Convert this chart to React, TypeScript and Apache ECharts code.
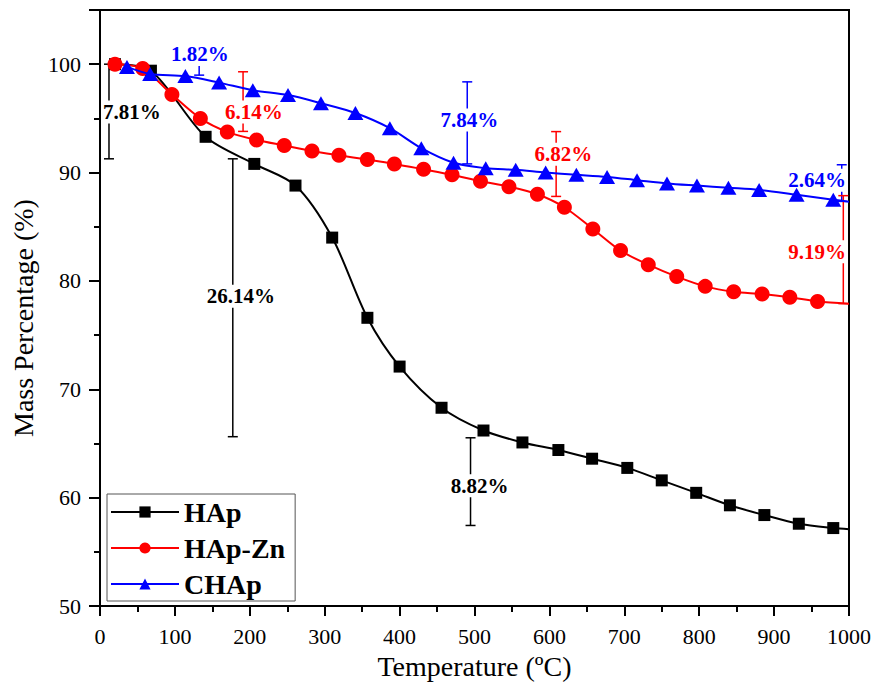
import React, { useEffect, useRef } from "react";
import * as echarts from "echarts";

const FONT = "'Liberation Serif', 'Times New Roman', serif";

// HAp (black squares)
const hapT = [20, 68, 141, 206, 261, 310, 357, 400, 456, 512, 564, 612, 657, 704, 750, 796, 841, 887, 933, 979];
const hapV = [100, 99.4, 93.3, 90.8, 88.8, 84.0, 76.6, 72.1, 68.3, 66.2, 65.1, 64.4, 63.6, 62.75, 61.6, 60.45, 59.3, 58.4, 57.6, 57.2];
const hapEnd = [1000, 57.1];

// HAp-Zn (red circles)
const znT = [20, 57, 96, 134, 170, 209, 246, 283, 319, 357, 393, 432, 470, 508, 546, 584, 620, 658, 695, 732, 770, 808, 846, 884, 921, 958];
const znV = [100, 99.6, 97.2, 95.0, 93.75, 93.0, 92.5, 92.0, 91.6, 91.2, 90.8, 90.3, 89.8, 89.2, 88.7, 88.0, 86.8, 84.8, 82.8, 81.5, 80.4, 79.5, 79.0, 78.8, 78.5, 78.1];
const znEnd = [1000, 77.9];

// CHAp (blue triangles)
const chT = [36, 67, 114, 159, 204, 251, 295, 341, 387, 429, 472, 515, 555, 595, 636, 677, 717, 757, 797, 839, 880, 930, 979];
const chV = [99.75, 99.1, 98.9, 98.3, 97.6, 97.15, 96.4, 95.5, 94.1, 92.25, 90.9, 90.4, 90.25, 90.0, 89.8, 89.6, 89.3, 89.0, 88.8, 88.6, 88.4, 87.95, 87.5];
const chEnd = [1000, 87.3];

// Mass-loss annotations: bar x, top, bottom, label anchor (data units)
const annText = ["7.81%", "26.14%", "8.82%", "1.82%", "6.14%", "7.84%", "6.82%", "2.64%", "9.19%"];
const annColor = ["#000000", "#000000", "#000000", "#0000ff", "#ff0000", "#0000ff", "#ff0000", "#0000ff", "#ff0000"];
const annX = [12, 177.3, 494.7, 132.4, 191, 490.3, 609, 990.3, 992.4];
const annTop = [100, 91.27, 65.53, 100.06, 99.3, 98.37, 93.78, 90.72, 87.87];
const annBottom = [91.27, 65.63, 57.44, 98.99, 93.8, 90.8, 87.8, 87.34, 77.91];
const annLabelX = [42.7, 188, 506.7, 133.3, 205.3, 493.3, 618.7, 957.3, 957.3];
const annLabelY = [95.6, 78.6, 61.1, 100.9, 95.6, 94.85, 91.7, 89.3, 82.7];

const xTicks = [0, 100, 200, 300, 400, 500, 600, 700, 800, 900, 1000];
const yTicks = [50, 60, 70, 80, 90, 100];

function pairs(t: number[], v: number[], end: number[]) {
  const d: any[] = t.map((x, i) => [x, v[i]]);
  d.push({ value: end, symbol: "none" });
  return d;
}

export default function App() {
  const ref = useRef<HTMLDivElement>(null);
  useEffect(() => {
    if (!ref.current) return;
    const chart = echarts.init(ref.current, undefined, { renderer: "svg" });
    const annData = annX.map((x, i) => [x, annTop[i], annBottom[i], annLabelX[i], annLabelY[i]]);
    const axisCommon = {
      axisLine: { show: true, lineStyle: { color: "#000", width: 2 } },
      axisTick: { show: true, inside: false, lineStyle: { color: "#000", width: 2 } },
      minorTick: { show: true, splitNumber: 2, lineStyle: { color: "#000", width: 2 } },
      splitLine: { show: false },
      minorSplitLine: { show: false },
      nameLocation: "middle" as const,
      nameTextStyle: { color: "#000", fontFamily: FONT, fontSize: 28 },
    };
    chart.setOption({
      animation: false,
      backgroundColor: "#ffffff",
      grid: { left: 100, right: 26, top: 10, bottom: 76, show: true, borderColor: "#000", borderWidth: 2, backgroundColor: "transparent" },
      xAxis: {
        type: "value",
        min: xTicks[0],
        max: xTicks[xTicks.length - 1],
        interval: 100,
        name: "Temperature (ºC)",
        nameGap: 44,
        ...axisCommon,
        axisTick: { ...axisCommon.axisTick, length: 10 },
        minorTick: { ...axisCommon.minorTick, length: 6 },
        axisLabel: {
          color: "#000",
          fontFamily: FONT,
          fontSize: 22,
          margin: 19,
          formatter: (v: number) => (xTicks.indexOf(v) >= 0 ? String(v) : ""),
        },
      },
      yAxis: {
        type: "value",
        min: yTicks[0],
        max: 105,
        interval: 10,
        name: "Mass Percentage (%)",
        nameGap: 56,
        ...axisCommon,
        nameTextStyle: { ...axisCommon.nameTextStyle, padding: [0, 20, 0, 0] },
        axisTick: { ...axisCommon.axisTick, length: 11 },
        minorTick: { ...axisCommon.minorTick, length: 6 },
        axisLabel: {
          color: "#000",
          fontFamily: FONT,
          fontSize: 22,
          margin: 19,
          formatter: (v: number) => (yTicks.indexOf(v) >= 0 ? String(v) : ""),
        },
      },
      legend: {
        orient: "vertical",
        left: 107,
        top: 494,
        padding: [4, 10, 3, 3],
        itemGap: 8,
        itemWidth: 68,
        itemHeight: 14,
        borderColor: "#555",
        borderWidth: 1,
        backgroundColor: "#fff",
        textStyle: { color: "#000", fontFamily: FONT, fontSize: 28, fontWeight: "bold" },
        data: ["HAp", "HAp-Zn", "CHAp"],
      },
      series: [
        {
          type: "custom",
          name: "annotations",
          z: 1,
          silent: true,
          clip: false,
          encode: { x: 0, y: 1 },
          data: annData,
          renderItem: (params: any, api: any) => {
            const i = params.dataIndex;
            const color = annColor[i];
            const p1 = api.coord([api.value(0), api.value(1)]);
            const p2 = api.coord([api.value(0), api.value(2)]);
            const pl = api.coord([api.value(3), api.value(4)]);
            const st = { stroke: color, lineWidth: 1.5 };
            return {
              type: "group",
              children: [
                { type: "line", shape: { x1: p1[0], y1: p1[1], x2: p2[0], y2: p2[1] }, style: st },
                { type: "line", shape: { x1: p1[0] - 5, y1: p1[1], x2: p1[0] + 5, y2: p1[1] }, style: st },
                { type: "line", shape: { x1: p2[0] - 5, y1: p2[1], x2: p2[0] + 5, y2: p2[1] }, style: st },
                {
                  type: "text",
                  x: pl[0],
                  y: pl[1],
                  style: {
                    text: annText[i],
                    fill: color,
                    fontFamily: FONT,
                    fontSize: 21,
                    fontWeight: "bold",
                    align: "center",
                    verticalAlign: "middle",
                    backgroundColor: "#ffffff",
                    padding: [1, 1],
                  },
                },
              ],
            };
          },
        },
        {
          type: "line",
          name: "HAp",
          z: 2,
          data: pairs(hapT, hapV, hapEnd),
          smooth: 0.3,
          symbol: "rect",
          symbolSize: 12,
          showAllSymbol: true,
          itemStyle: { color: "#000000" },
          lineStyle: { color: "#000000", width: 2 },
          emphasis: { disabled: true },
        },
        {
          type: "line",
          name: "HAp-Zn",
          z: 3,
          data: pairs(znT, znV, znEnd),
          smooth: 0.3,
          symbol: "circle",
          symbolSize: 15,
          showAllSymbol: true,
          itemStyle: { color: "#ff0000" },
          lineStyle: { color: "#ff0000", width: 2 },
          emphasis: { disabled: true },
        },
        {
          type: "line",
          name: "CHAp",
          z: 4,
          data: pairs(chT, chV, chEnd),
          smooth: 0.3,
          symbol: "triangle",
          symbolSize: [16, 14],
          showAllSymbol: true,
          itemStyle: { color: "#0000ff" },
          lineStyle: { color: "#0000ff", width: 2 },
          emphasis: { disabled: true },
        },
      ],
    });
    return () => chart.dispose();
  }, []);
  return <div ref={ref} style={{ position: "fixed", left: 0, top: 0, width: 875, height: 685, background: "#fff" }} />;
}
